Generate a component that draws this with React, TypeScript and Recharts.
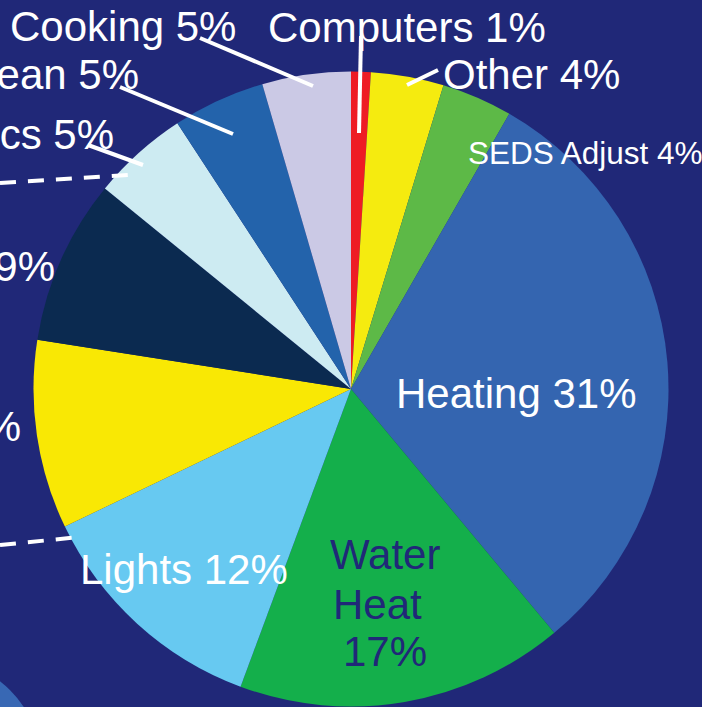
import { Pie, PieChart, Cell } from 'recharts';

// slices run clockwise from 12 o'clock
const CATEGORIES = [
  'Computers',
  'Other',
  'SEDS Adjust',
  'Heating',
  'Water Heat',
  'Lights',
  'Cooling',
  'Refrigeration',
  'Electronics',
  'Clean',
  'Cooking',
];
const SHARES = [1.0, 3.7, 3.6, 30.6, 16.7, 12.2, 9.6, 8.4, 4.9, 4.7, 4.5];
const LABEL_PCT = [1, 4, 4, 31, 17, 12, 10, 9, 5, 5, 5];

const COLORS = [
  '#ee1c24',
  '#f5eb0f',
  '#5db947',
  '#3465b0',
  '#14af4b',
  '#67c9f1',
  '#f9e804',
  '#0b2a50',
  '#cdebf2',
  '#2363ab',
  '#cbc9e5',
];

const BG = '#202878';
const FONT = '"Liberation Sans", Arial, Helvetica, sans-serif';

type LabelLayout = {
  x: number;
  y: number;
  anchor?: 'start' | 'end' | 'middle';
  size?: number;
  fill?: string;
  lines?: { text: string; x: number; y: number }[];
  leader?: [number, number, number, number];
  dashed?: [number, number, number, number];
};

// label placement (the source picture is cropped, so some labels run off the left edge)
const LAYOUT: Record<string, LabelLayout> = {
  Computers: { x: 268, y: 42, leader: [361, 36, 359, 133] },
  Other: { x: 443, y: 89, leader: [407, 85, 438, 70] },
  'SEDS Adjust': { x: 468, y: 164, size: 31.5 },
  Heating: { x: 396, y: 408 },
  'Water Heat': {
    x: 330,
    y: 569,
    fill: BG,
    lines: [
      { text: 'Water', x: 330, y: 569 },
      { text: 'Heat', x: 333, y: 619 },
      { text: '17%', x: 343, y: 666 },
    ],
  },
  Lights: { x: 80, y: 584 },
  Cooling: { x: 21, y: 441, anchor: 'end', dashed: [0, 545, 80, 537] },
  Refrigeration: { x: 55, y: 281, anchor: 'end', dashed: [0, 183, 128, 175] },
  Electronics: { x: 114, y: 149, anchor: 'end', leader: [88, 145, 143, 165] },
  Clean: { x: 139, y: 89, anchor: 'end', leader: [120, 87, 233, 134] },
  Cooking: { x: 10, y: 41, leader: [200, 38, 313, 86] },
};

const chartData = CATEGORIES.map((name, i) => ({
  name,
  value: SHARES[i],
  pct: LABEL_PCT[i],
}));

function renderLabel(props: any) {
  const idx = props.index as number;
  const name = CATEGORIES[idx];
  const l = LAYOUT[name];
  if (!l) return null;
  const size = l.size ?? 42;
  const fill = l.fill ?? '#ffffff';
  return (
    <g key={`lbl-${name}`}>
      {l.dashed && (
        <line
          x1={l.dashed[0]}
          y1={l.dashed[1]}
          x2={l.dashed[2]}
          y2={l.dashed[3]}
          stroke="#ffffff"
          strokeWidth={4}
          strokeDasharray="16 12"
        />
      )}
      {l.lines ? (
        l.lines.map((ln) => (
          <text
            key={ln.text}
            x={ln.x}
            y={ln.y}
            fill={fill}
            fontSize={size}
            fontFamily={FONT}
            textAnchor="start"
          >
            {ln.text}
          </text>
        ))
      ) : (
        <text
          x={l.x}
          y={l.y}
          fill={fill}
          fontSize={size}
          fontFamily={FONT}
          textAnchor={l.anchor ?? 'start'}
        >
          {`${name} ${LABEL_PCT[idx]}%`}
        </text>
      )}
      {l.leader && (
        <line
          x1={l.leader[0]}
          y1={l.leader[1]}
          x2={l.leader[2]}
          y2={l.leader[3]}
          stroke="#ffffff"
          strokeWidth={4}
        />
      )}
    </g>
  );
}

export default function App() {
  return (
    <div
      style={{
        position: 'fixed',
        top: 0,
        left: 0,
        width: 702,
        height: 707,
        background: BG,
        overflow: 'hidden',
      }}
    >
      <div
        style={{
          position: 'absolute',
          left: -183,
          top: 657,
          width: 226,
          height: 226,
          borderRadius: '50%',
          background: '#3868b4',
        }}
      />
      <PieChart
        width={702}
        height={707}
        margin={{ top: 0, right: 0, bottom: 0, left: 0 }}
        style={{ position: 'absolute', top: 0, left: 0 }}
      >
        <Pie
          data={chartData}
          dataKey="value"
          nameKey="name"
          cx={351}
          cy={389}
          outerRadius={317.5}
          innerRadius={0}
          startAngle={90}
          endAngle={-270}
          stroke="none"
          label={renderLabel}
          labelLine={false}
          isAnimationActive={false}
        >
          {chartData.map((entry, index) => (
            <Cell key={entry.name} fill={COLORS[index]} stroke="none" />
          ))}
        </Pie>
      </PieChart>
    </div>
  );
}
